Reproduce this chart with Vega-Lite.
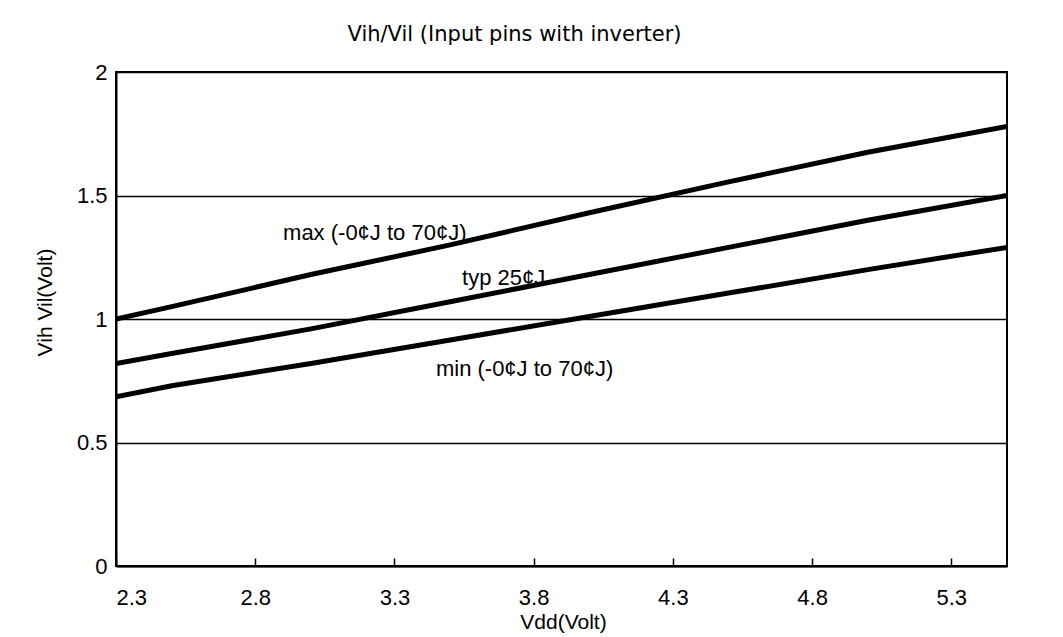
{
  "$schema": "https://vega.github.io/schema/vega-lite/v6.json",
  "width": 891,
  "height": 494,
  "autosize": {"type": "none"},
  "padding": {"left": 116, "top": 72, "right": 56, "bottom": 71},
  "background": "white",
  "config": {
    "view": {"stroke": "black", "strokeWidth": 2},
    "font": "Liberation Sans"
  },
  "title": {
    "text": "Vih/Vil (Input pins with inverter)",
    "anchor": "middle",
    "dx": -47,
    "offset": 16,
    "fontSize": 21,
    "fontWeight": "normal",
    "color": "black",
    "font": "DejaVu Sans"
  },
  "datasets": {
    "curves": [
      {"curve": "max", "vdd": 2.3, "v": 1.0},
      {"curve": "max", "vdd": 2.5, "v": 1.05},
      {"curve": "max", "vdd": 3.0, "v": 1.18},
      {"curve": "max", "vdd": 3.5, "v": 1.3},
      {"curve": "max", "vdd": 4.0, "v": 1.43},
      {"curve": "max", "vdd": 4.5, "v": 1.555},
      {"curve": "max", "vdd": 5.0, "v": 1.675},
      {"curve": "max", "vdd": 5.5, "v": 1.78},
      {"curve": "typ", "vdd": 2.3, "v": 0.82},
      {"curve": "typ", "vdd": 2.5, "v": 0.86},
      {"curve": "typ", "vdd": 3.0, "v": 0.96},
      {"curve": "typ", "vdd": 3.5, "v": 1.07},
      {"curve": "typ", "vdd": 4.0, "v": 1.18},
      {"curve": "typ", "vdd": 4.5, "v": 1.29},
      {"curve": "typ", "vdd": 5.0, "v": 1.4},
      {"curve": "typ", "vdd": 5.5, "v": 1.5},
      {"curve": "min", "vdd": 2.3, "v": 0.685},
      {"curve": "min", "vdd": 2.5, "v": 0.73},
      {"curve": "min", "vdd": 3.0, "v": 0.82},
      {"curve": "min", "vdd": 3.5, "v": 0.915},
      {"curve": "min", "vdd": 4.0, "v": 1.01},
      {"curve": "min", "vdd": 4.5, "v": 1.105},
      {"curve": "min", "vdd": 5.0, "v": 1.2},
      {"curve": "min", "vdd": 5.5, "v": 1.29}
    ],
    "labels": [
      {"vdd": 2.9, "v": 1.347, "label": "max (-0¢J to 70¢J)"},
      {"vdd": 3.543, "v": 1.165, "label": "typ 25¢J"},
      {"vdd": 3.449, "v": 0.798, "label": "min (-0¢J to 70¢J)"}
    ]
  },
  "layer": [
    {
      "data": {"name": "curves"},
      "mark": {"type": "line", "color": "black", "strokeWidth": 5, "clip": true},
      "encoding": {
        "x": {
          "field": "vdd",
          "type": "quantitative",
          "scale": {"domain": [2.3, 5.5], "nice": false, "zero": false},
          "axis": {
            "values": [2.3, 2.8, 3.3, 3.8, 4.3, 4.8, 5.3],
            "format": ".1f",
            "grid": false,
            "domainColor": "black",
            "domainWidth": 2,
            "tickColor": "black",
            "tickWidth": 1.5,
            "tickSize": -8,
            "labelFontSize": 22,
            "labelColor": "black",
            "labelPadding": 29,
            "labelDx": 5,
            "labelFont": "Liberation Sans",
            "title": "Vdd(Volt)",
            "titleFont": "Liberation Sans",
            "titleFontSize": 21,
            "titleFontWeight": "normal",
            "titleColor": "black",
            "titleX": 447,
            "titleY": 56,
            "titleBaseline": "middle"
          }
        },
        "y": {
          "field": "v",
          "type": "quantitative",
          "scale": {"domain": [0, 2], "nice": false},
          "axis": {
            "values": [0, 0.5, 1, 1.5, 2],
            "format": "~g",
            "grid": true,
            "gridColor": "black",
            "gridWidth": 1.5,
            "gridOpacity": 1,
            "domainColor": "black",
            "domainWidth": 2,
            "ticks": false,
            "labelFontSize": 22,
            "labelColor": "black",
            "labelPadding": 9,
            "labelFont": "Liberation Sans",
            "title": "Vih Vil(Volt)",
            "titleFont": "Liberation Sans",
            "titleFontSize": 21,
            "titleFontWeight": "normal",
            "titleColor": "black",
            "titleX": -71,
            "titleY": 230,
            "titleBaseline": "middle"
          }
        },
        "detail": {"field": "curve"}
      }
    },
    {
      "data": {"name": "labels"},
      "mark": {"type": "text", "align": "left", "baseline": "middle", "fontSize": 22, "color": "black", "font": "Liberation Sans"},
      "encoding": {
        "x": {"field": "vdd", "type": "quantitative"},
        "y": {"field": "v", "type": "quantitative"},
        "text": {"field": "label"}
      }
    }
  ]
}
